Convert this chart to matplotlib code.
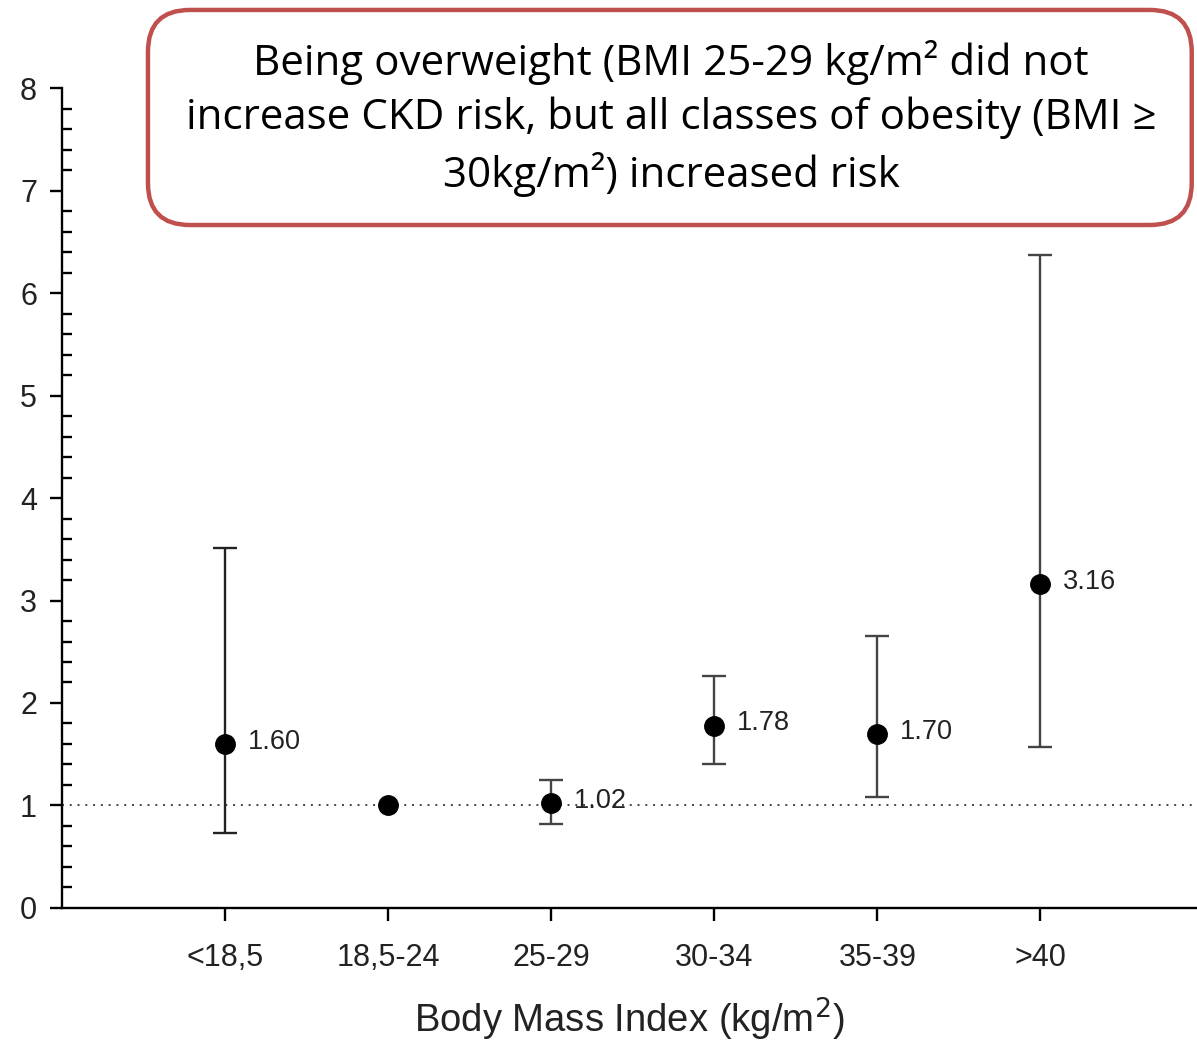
import matplotlib.pyplot as plt
from matplotlib.ticker import MultipleLocator
from matplotlib.patches import FancyBboxPatch

categories = ['<18,5', '18,5-24', '25-29', '30-34', '35-39', '>40']
hr = [1.60, 1.00, 1.02, 1.78, 1.70, 3.16]
ci_low = [0.73, 1.00, 0.82, 1.40, 1.08, 1.57]
ci_high = [3.51, 1.00, 1.25, 2.26, 2.65, 6.37]
hr_labels = ['1.60', '', '1.02', '1.78', '1.70', '3.16']

fig = plt.figure(figsize=(11.97, 10.48), dpi=100)
ax = fig.add_axes([0.0518, 0.1336, 0.9482, 0.7824])

x = list(range(1, len(categories) + 1))
ax.axhline(1, color='#444444', linestyle=(0, (1, 3)), linewidth=1.4, zorder=1)

for i in range(len(x)):
    if ci_high[i] > ci_low[i]:
        ax.errorbar(x[i], hr[i],
                    yerr=[[hr[i] - ci_low[i]], [ci_high[i] - hr[i]]],
                    fmt='none', ecolor='#222222' if i == 0 else '#444444',
                    elinewidth=1.7, capsize=8.6, capthick=1.7, zorder=2)
ax.plot(x, hr, 'o', color='black', markersize=14, zorder=3)

for i in range(len(x)):
    if hr_labels[i]:
        ax.text(x[i] + 0.14, hr[i] + 0.02, hr_labels[i], fontsize=19.5,
                family='Liberation Sans', color='#222222', va='center', ha='left')

ax.set_xlim(0, 6.96)
ax.set_ylim(0, 8)
ax.set_xticks(x)
ax.set_xticklabels(categories, fontsize=22, family='Liberation Sans', color='#222222')
ax.set_yticks(range(0, 9))
ax.set_yticklabels([str(v) for v in range(0, 9)], fontsize=22,
                   family='Liberation Sans', color='#222222')
ax.yaxis.set_minor_locator(MultipleLocator(0.2))
ax.tick_params(axis='y', which='major', direction='out', length=9, width=1.7, pad=9)
ax.tick_params(axis='y', which='minor', direction='in', length=7, width=1.7)
ax.tick_params(axis='x', which='major', direction='out', length=9, width=1.7, pad=16)
ax.spines['top'].set_visible(False)
ax.spines['right'].set_visible(False)
ax.spines['left'].set_linewidth(1.7)
ax.spines['bottom'].set_linewidth(1.7)
ax.set_xlabel('Body Mass Index (kg/m$^2$)', fontsize=27.5, family='Liberation Sans',
              color='#222222', labelpad=17)

# callout box
box = FancyBboxPatch((0.1236, 0.7853), 0.872, 0.2052, transform=fig.transFigure,
                     boxstyle='round,pad=0,rounding_size=0.035',
                     facecolor='white', edgecolor='#c0504d', linewidth=3.2,
                     mutation_aspect=1197 / 1048, zorder=10)
fig.patches.append(box)
fig.text(0.5606, 0.887,
         'Being overweight (BMI 25-29 kg/m² did not\n'
         'increase CKD risk, but all classes of obesity (BMI ≥\n'
         '30kg/m²) increased risk',
         ha='center', va='center', fontsize=30.3, linespacing=1.36,
         family=['Open Sans', 'DejaVu Sans'], color='black', zorder=11)

fig.savefig('out.png', dpi=100)
